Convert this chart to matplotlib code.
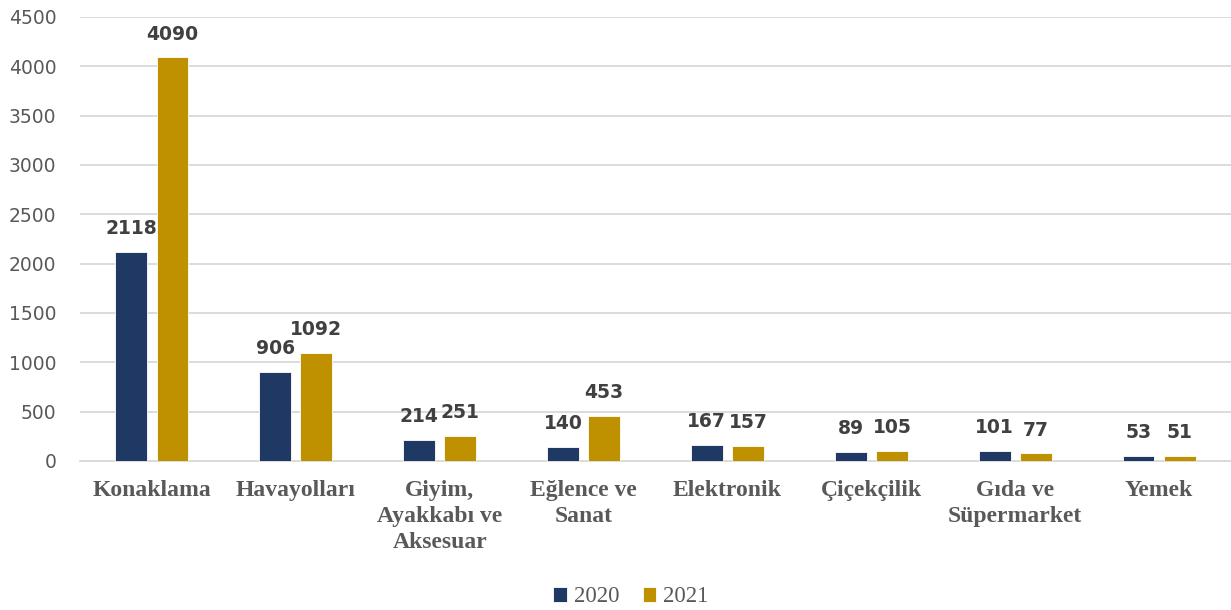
import numpy as np
import matplotlib.pyplot as plt

kategoriler = ['Konaklama', 'Havayolları', 'Giyim,\nAyakkabı ve\nAksesuar',
               'Eğlence ve\nSanat', 'Elektronik', 'Çiçekçilik',
               'Gıda ve\nSüpermarket', 'Yemek']
y2020 = [2118, 906, 214, 140, 167, 89, 101, 53]
y2021 = [4090, 1092, 251, 453, 157, 105, 77, 51]
yticks = [0, 500, 1000, 1500, 2000, 2500, 3000, 3500, 4000, 4500]

lacivert = '#203864'
altin = '#BF9000'
gri = '#595959'

fig = plt.figure(figsize=(12.31, 6.10), dpi=100)
ax = fig.add_axes([80 / 1231, 149 / 610, 1151 / 1231, 444 / 610])

x = np.arange(len(kategoriler))
w = 0.222
b1 = ax.bar(x - 0.143, y2020, w, color=lacivert, label='2020',
            edgecolor='white', linewidth=0.6, zorder=3)
b2 = ax.bar(x + 0.143, y2021, w, color=altin, label='2021',
            edgecolor='white', linewidth=0.6, zorder=3)

for bars in (b1, b2):
    ax.bar_label(bars, padding=10, fontsize=13.5, fontweight='bold',
                 color='#404040', family='DejaVu Sans')

ax.set_xlim(-0.5, len(kategoriler) - 0.5)
ax.set_ylim(0, 4500)
ax.set_yticks(yticks)
ax.yaxis.grid(True, color='#D9D9D9', linewidth=1.3, zorder=0)
for s in ['top', 'right', 'left']:
    ax.spines[s].set_visible(False)
ax.spines['bottom'].set_color('#D9D9D9')
ax.spines['bottom'].set_linewidth(1.3)
ax.tick_params(axis='both', length=0)
ax.tick_params(axis='y', labelsize=13.5, labelcolor=gri, pad=17)
ax.set_xticks(x)
ax.set_xticklabels(kategoriler, fontsize=17, fontweight='bold',
                   color=gri, family='Liberation Serif', linespacing=1.3)
ax.tick_params(axis='x', pad=14)

leg = fig.legend(loc='center', bbox_to_anchor=(631 / 1231, 13 / 610), ncol=2,
                 frameon=False, prop={'family': 'Liberation Serif', 'size': 16.5},
                 handlelength=0.6, handleheight=0.6, handletextpad=0.3,
                 columnspacing=1.0)
for t in leg.get_texts():
    t.set_color(gri)

fig.savefig('out.png', dpi=100)
